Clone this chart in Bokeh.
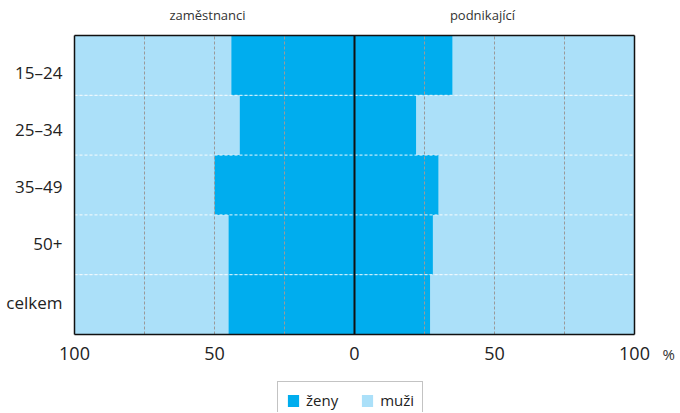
from bokeh.plotting import figure
from bokeh.models import (ColumnDataSource, FixedTicker, Legend, LegendItem, LinearAxis, Label)
from bokeh.embed import file_html
from bokeh.resources import INLINE

categories = ["15–24", "25–34", "35–49", "50+", "celkem"]
women_employees = [44, 41, 50, 45, 45]
women_entrepreneurs = [35, 22, 30, 28, 27]
x_ticks = [-100, -50, 0, 50, 100]
x_tick_labels = ["100", "50", "0", "50", "100"]
grid_ticks = [-75, -50, -25, 25, 50, 75]
header_pos = [-52.5, 45.7]
header_labels = ["zaměstnanci", "podnikající"]
legend_labels = ["ženy", "muži"]

DARK = "#00ADEE"
LIGHT = "#ABE0F9"
FONT = "Open Sans"
INK = "#222222"
EDGE = "#111111"

n = len(categories)
ypos = [n - 0.5 - i for i in range(n)]

# ---- layout (pixels): the whole canvas is the plotting frame ----
W, H = 680, 412
BOX_L, BOX_R, BOX_T, BOX_B = 74, 634, 35, 334   # bar area inside the canvas
LABEL_NUDGE_PX = [7, 4, 2, -1, -2]              # category label offsets below band centre
XMIN, XMAX = -100, 100
px_x = (BOX_R - BOX_L) / (XMAX - XMIN)
px_y = (BOX_B - BOX_T) / n
x_range = (XMIN - BOX_L / px_x, XMAX + (W - BOX_R) / px_x)
y_range = (0 - (H - BOX_B) / px_y, n + BOX_T / px_y)
label_y = [round(y - d / px_y, 4) for y, d in zip(ypos, LABEL_NUDGE_PX)]

src = ColumnDataSource(dict(
    y=ypos,
    we_left=[-v for v in women_employees],
    wp_right=women_entrepreneurs,
))
vgrid = ColumnDataSource(dict(x=grid_ticks, y0=[0] * len(grid_ticks), y1=[n] * len(grid_ticks)))
seps = list(range(1, n))
hgrid = ColumnDataSource(dict(y=seps, x0=[XMIN] * len(seps), x1=[XMAX] * len(seps)))

p = figure(width=W, height=H, output_backend="svg", toolbar_location=None,
           x_range=x_range, y_range=y_range,
           min_border=0, min_border_left=0, min_border_right=0, min_border_top=0, min_border_bottom=0)
p.background_fill_color = "white"
p.border_fill_color = "white"
p.outline_line_color = None
p.xgrid.visible = False
p.ygrid.visible = False

men_l = p.hbar(y="y", left=XMIN, right="we_left", height=1, source=src, fill_color=LIGHT, line_color=None)
p.hbar(y="y", left="wp_right", right=XMAX, height=1, source=src, fill_color=LIGHT, line_color=None)
wom_l = p.hbar(y="y", left="we_left", right=0, height=1, source=src, fill_color=DARK, line_color=None)
p.hbar(y="y", left=0, right="wp_right", height=1, source=src, fill_color=DARK, line_color=None)

p.segment(x0="x", y0="y0", x1="x", y1="y1", source=vgrid, line_color="#9a9a9a", line_dash="3 2", line_width=1)
p.segment(x0="x0", y0="y", x1="x1", y1="y", source=hgrid, line_color="white", line_dash="3 2",
          line_width=1, line_alpha=0.9)
p.segment(x0=[0], y0=[0], x1=[0], y1=[n], line_color=EDGE, line_width=2)

def style(ax):
    ax.major_tick_line_color = None
    ax.minor_tick_line_color = None
    ax.major_tick_out = 0
    ax.major_tick_in = 0
    ax.minor_tick_out = 0
    ax.minor_tick_in = 0
    ax.axis_line_color = EDGE
    ax.axis_line_width = 1.5
    ax.major_label_text_font = FONT
    ax.major_label_text_color = INK

xa = p.xaxis[0]
style(xa)
xa.fixed_location = 0
xa.bounds = (XMIN, XMAX)
xa.ticker = FixedTicker(ticks=x_ticks)
xa.major_label_overrides = {t: l for t, l in zip(x_ticks, x_tick_labels)}
xa.major_label_text_font_size = "18px"
xa.major_label_standoff = 12

ya = p.yaxis[0]
style(ya)
ya.fixed_location = XMIN
ya.bounds = (0, n)
ya.ticker = FixedTicker(ticks=label_y)
ya.major_label_overrides = {y: c for y, c in zip(label_y, categories)}
ya.major_label_text_font_size = "17px"
ya.major_label_standoff = 12

ra = LinearAxis(fixed_location=XMAX, bounds=(0, n), ticker=FixedTicker(ticks=[]))
style(ra)
p.add_layout(ra, "right")

top = LinearAxis(fixed_location=n, bounds=(XMIN, XMAX), ticker=FixedTicker(ticks=header_pos),
                 major_label_overrides={x: t for x, t in zip(header_pos, header_labels)})
style(top)
top.major_label_text_font_size = "13px"
top.major_label_text_color = "#333333"
top.major_label_standoff = 12
p.add_layout(top, "above")

p.add_layout(Label(x=XMAX, y=0, x_offset=28, y_offset=-19, text="%", text_align="left",
                   text_baseline="middle", text_font=FONT, text_font_size="15px", text_color="#333333"))

legend = Legend(items=[LegendItem(label=legend_labels[0], renderers=[wom_l]),
                       LegendItem(label=legend_labels[1], renderers=[men_l])],
                orientation="horizontal", location=(277, -7),
                label_text_font=FONT, label_text_font_size="15px", label_text_color=INK,
                glyph_width=14, glyph_height=15, label_standoff=6, spacing=22,
                padding=8, margin=0,
                border_line_color="#888888", border_line_width=1.5,
                background_fill_color="white")
p.add_layout(legend, "center")

open("out.html", "w").write(file_html(p, INLINE))
